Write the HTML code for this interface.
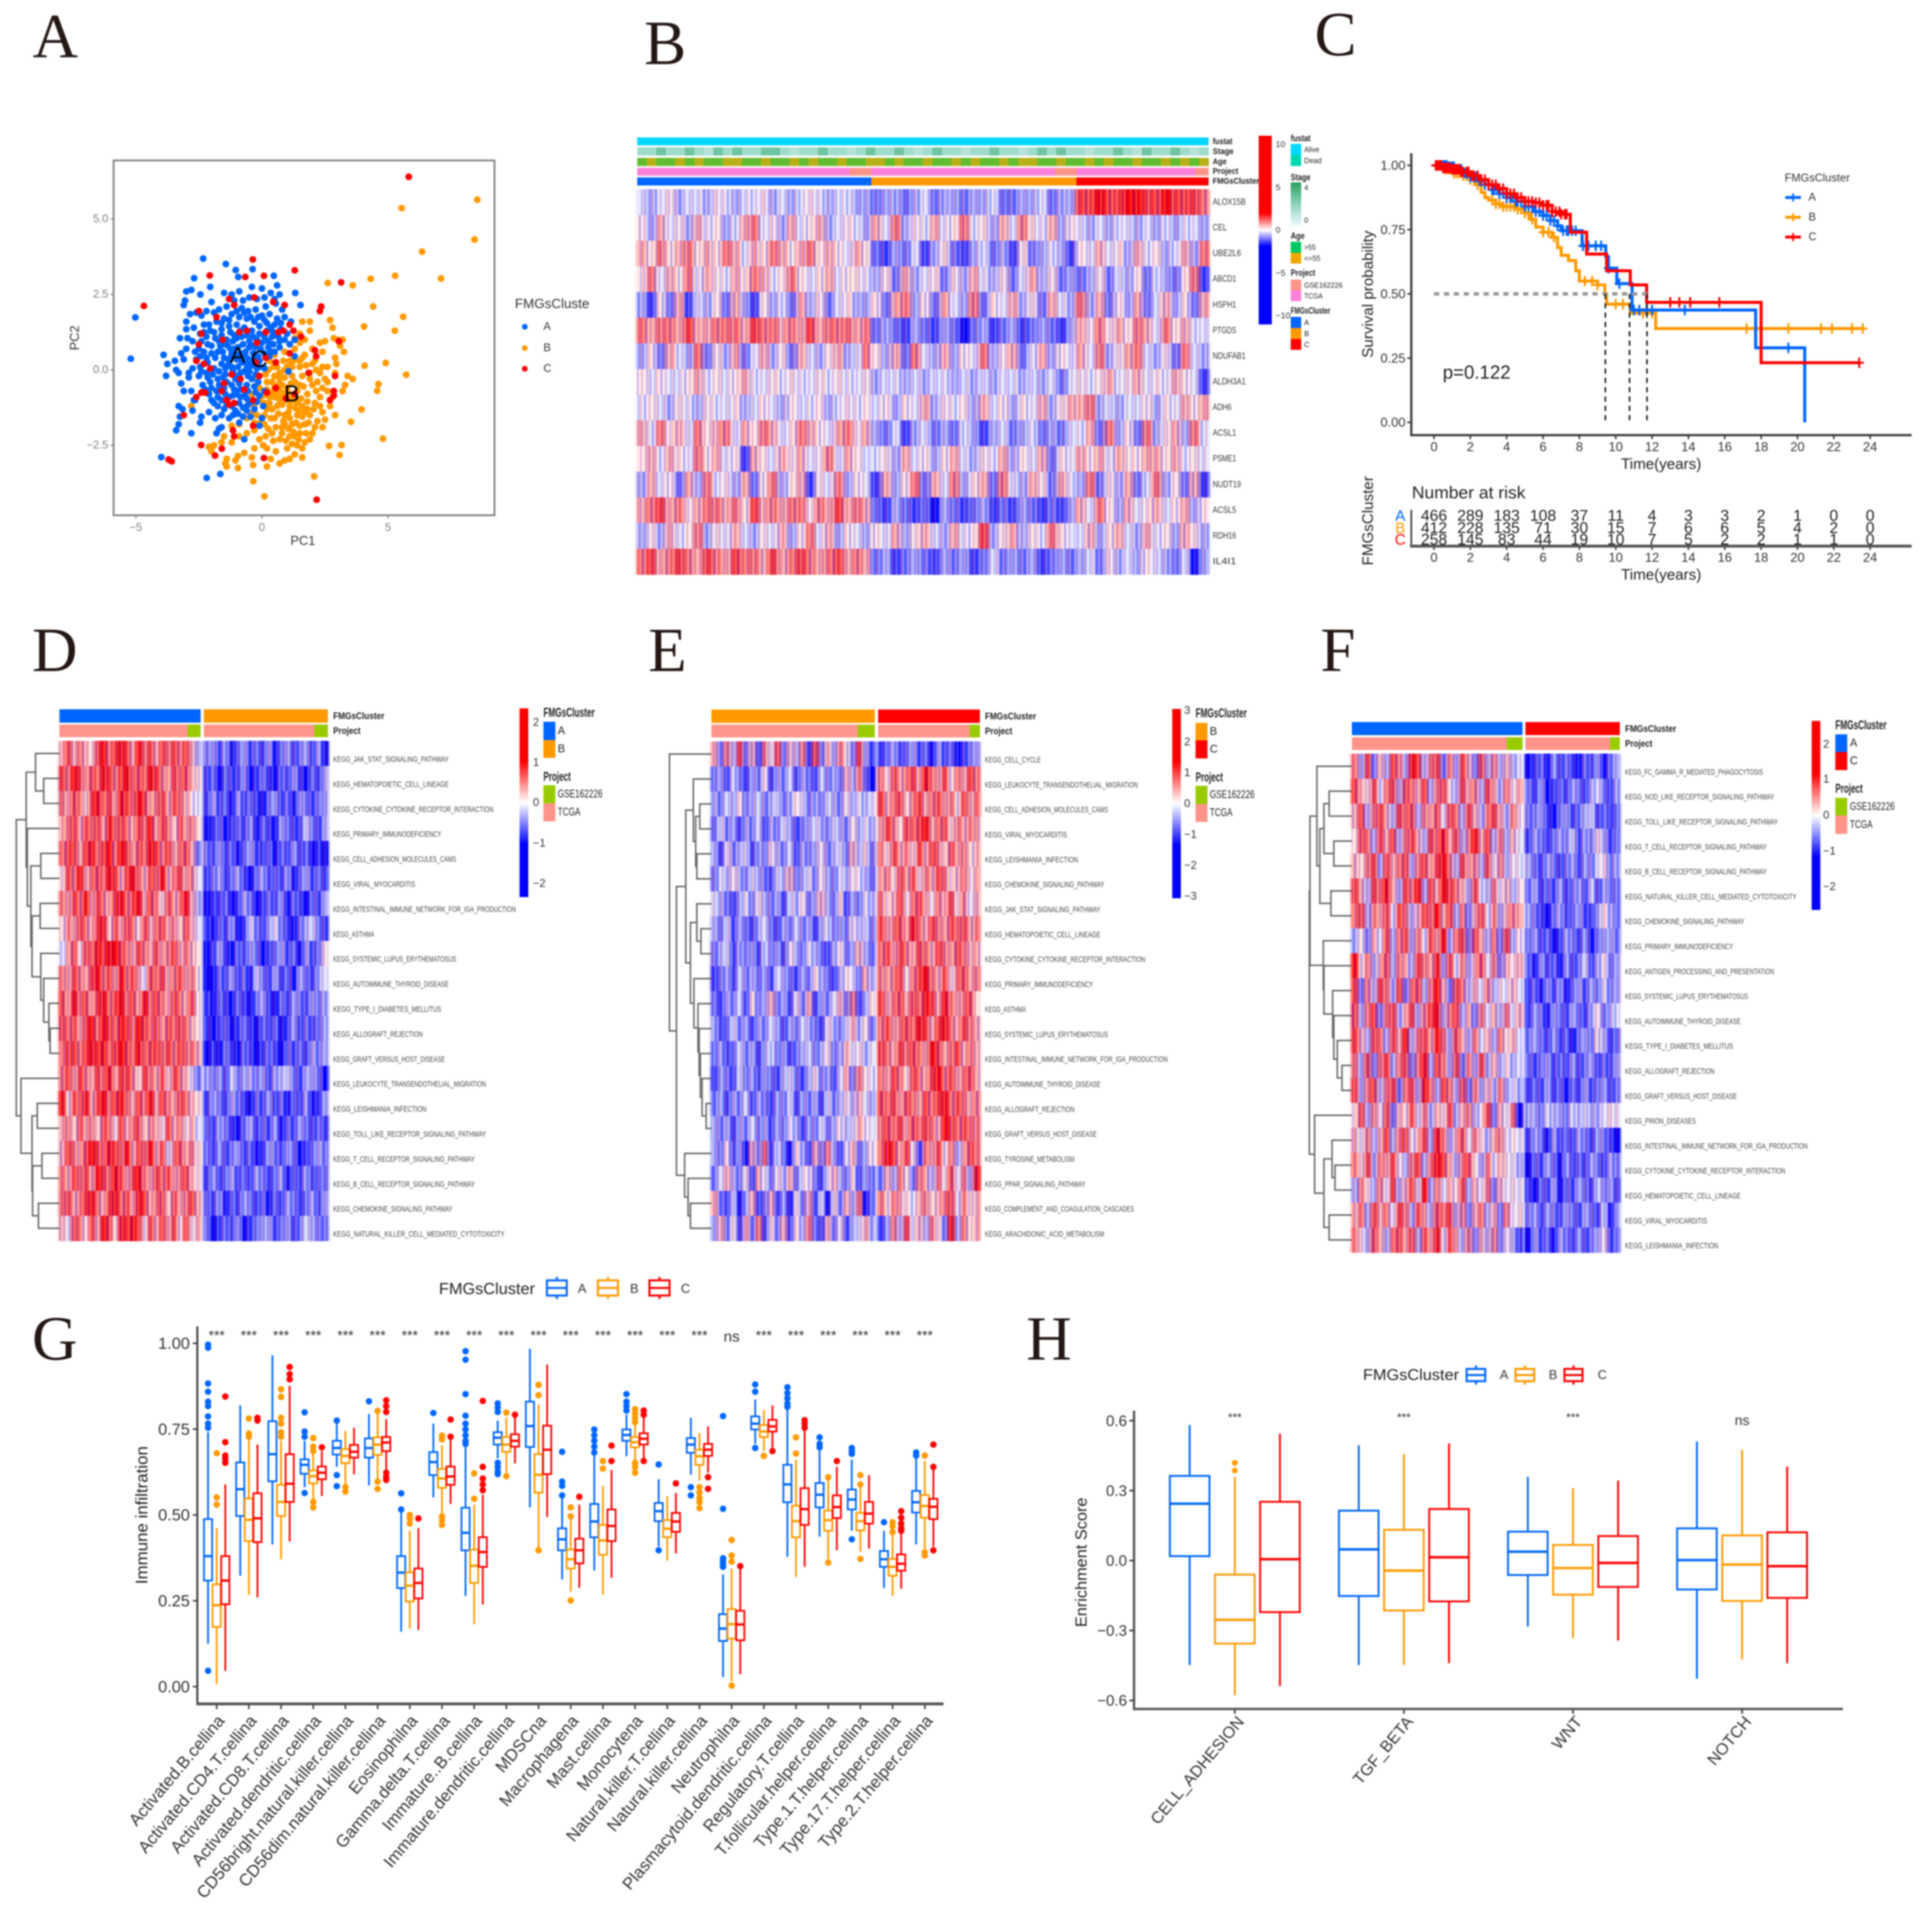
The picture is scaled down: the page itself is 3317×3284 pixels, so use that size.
<!DOCTYPE html>
<html lang="en">
<head>
<meta charset="utf-8">
<title>FMGs cluster figure</title>
<style>
html,body{margin:0;padding:0;background:#fff}
#figure{display:block;filter:blur(1.3px)}
text{font-family:"Liberation Sans",sans-serif}
.letter{font-family:"Liberation Serif",serif;font-size:108px;fill:#231815}
</style>
</head>
<body>
<svg id="figure" xmlns="http://www.w3.org/2000/svg" width="3317" height="3284" viewBox="0 0 3317 3284">
<defs>
<linearGradient id="gradB" x1="0" y1="0" x2="0" y2="1"><stop offset="0.41" stop-color="#ff0000"/><stop offset="0.5" stop-color="#ffffff"/><stop offset="0.585" stop-color="#0000ff"/></linearGradient>
<linearGradient id="gradHeat" x1="0" y1="0" x2="0" y2="1"><stop offset="0.28" stop-color="#ff0000"/><stop offset="0.5" stop-color="#ffffff"/><stop offset="0.72" stop-color="#0000ff"/></linearGradient>
<linearGradient id="gradStage" x1="0" y1="0" x2="0" y2="1"><stop offset="0" stop-color="#2a9d5c"/><stop offset="0.35" stop-color="#6fc4a2"/><stop offset="0.7" stop-color="#b5e3da"/><stop offset="1" stop-color="#eefbfb"/></linearGradient>
<filter id="hblur" x="-2%" y="-2%" width="104%" height="104%" color-interpolation-filters="sRGB"><feGaussianBlur stdDeviation="3 0.6"/><feComponentTransfer><feFuncA type="linear" slope="1.6"/></feComponentTransfer></filter>
<pattern id="fineStripes" patternUnits="userSpaceOnUse" width="41" height="10">
<rect x="0" y="0" width="2" height="10" fill="#0000ff" fill-opacity=".3"/><rect x="3" y="0" width="2" height="10" fill="#ffffff" fill-opacity=".32"/><rect x="7" y="0" width="3" height="10" fill="#0000ff" fill-opacity=".18"/><rect x="11" y="0" width="2" height="10" fill="#ff0000" fill-opacity=".25"/><rect x="14" y="0" width="2" height="10" fill="#ffffff" fill-opacity=".25"/><rect x="18" y="0" width="3" height="10" fill="#0000ff" fill-opacity=".3"/><rect x="23" y="0" width="2" height="10" fill="#ffffff" fill-opacity=".32"/><rect x="26" y="0" width="2" height="10" fill="#800080" fill-opacity=".28"/><rect x="30" y="0" width="3" height="10" fill="#ffffff" fill-opacity=".18"/><rect x="35" y="0" width="2" height="10" fill="#0000ff" fill-opacity=".26"/><rect x="38" y="0" width="2" height="10" fill="#ff0000" fill-opacity=".2"/>
</pattern>
</defs>
<rect x="0" y="0" width="3317" height="3284" fill="#ffffff"/>
<text class="letter" x="56" y="98">A</text>
<text class="letter" x="1106" y="110">B</text>
<text class="letter" x="2257" y="95">C</text>
<text class="letter" x="55" y="1152">D</text>
<text class="letter" x="1113" y="1152">E</text>
<text class="letter" x="2267" y="1152">F</text>
<text class="letter" x="55" y="2334">G</text>
<text class="letter" x="1762" y="2334">H</text>
<g id="panelA"></g>
<g id="panelB"></g>
<g id="panelC"></g>
<g id="panelD"></g>
<g id="panelE"></g>
<g id="panelF"></g>
<g id="panelG"></g>
<g id="panelH"></g>
</svg>
<script>
/* ---------- Panel A data ---------- */
const pcaTicksX=[-5,0,5];
const pcaTicksY=[-2.5,0,2.5,5];
const pcaPointsB=[[8.54,5.64],[5.54,5.36],[8.43,4.32],[6.35,3.92],[7.1,3.03],[5.28,3.12],[4.31,3.02],[3.6,2.8],[2.61,2.88],[4.41,2.1],[5.6,1.76],[5.27,1.3],[4.05,1.44],[4.91,.23],[4.07,.14],[5.72,-.16],[4.62,-.47],[4.57,-.69],[3.95,-1.31],[3.53,-1.72],[4.8,-2.28],[3.16,-2.49],[2.66,-2.52],[3.08,-2.82],[2.07,-3.53],[.1,-4.19],[-.34,-3.69],[2.7,1.65],[2.8,1.4],[1.9,1.3],[1.9,1.6],[1.6,1.6],[2.5,.95],[2.3,.9],[3,1],[3.2,1],[2.85,1.05],[3.25,.6],[3.1,.8],[2.4,.6],[2.9,.4],[2.95,.2],[2.4,.1],[2.6,.1],[2.9,-.1],[3.4,-.2],[3.6,-.3],[3.3,-.5],[3.2,-.7],[2.5,-.3],[2.1,.3],[2,.7],[1.7,1],[1.5,1.2],[1.3,.7],[1.7,.5],[1.1,.3],[1.5,.1],[1.9,-.1],[2.2,-.4],[2.6,-.7],[2.8,-.9],[2.7,-1.2],[2.4,-1.4],[2.9,-1.5],[2.1,-1.1],[1.8,-.8],[1.5,-.5],[1.2,-.2],[.9,0],[.6,.1],[.3,.3],[.7,-.3],[1,-.6],[1.3,-.9],[1.6,-1.2],[1.9,-1.5],[2.2,-1.7],[2.4,-1.9],[2,-2.1],[1.7,-1.8],[1.4,-1.5],[1.1,-1.2],[.8,-.9],[.5,-.6],[.2,-.4],[-.1,-.6],[.3,-.9],[.6,-1.2],[.9,-1.5],[1.2,-1.8],[1.5,-2.1],[1.7,-2.4],[1.4,-2.5],[1.1,-2.2],[.8,-1.9],[.5,-1.6],[.2,-1.3],[-.1,-1],[-.4,-.8],[-.2,-1.5],[.1,-1.8],[.4,-2.1],[.7,-2.3],[1,-2.6],[1.3,-2.8],[1.6,-2.6],[1.6,-2.9],[1.1,-2.95],[.9,-3],[.7,-3.1],[.55,-2.7],[.2,-2.6],[.35,-2.95],[.2,-3.2],[.05,-2.5],[-.3,-2.6],[-.4,-2.9],[-.35,-3.15],[-.7,-2.75],[-.95,-2.85],[-1.05,-3],[-1.4,-2.95],[-1.4,-3.2],[-1.45,-3.1],[-.95,-3.25],[-2,-2.7],[-1.9,-2.5],[-2.1,-2.55],[-1.6,-2.4],[-1.5,-2.2],[-1.7,-1.95],[-1.2,-2.4],[-.9,-2.2],[-.6,-2.1],[-.3,-2],[-.9,-1.8],[-.6,-1.6],[-1.2,-1.85],[-.1,-2.3],[.1,-1.5],[.4,-1.3],[.7,-.7],[1,-1],[1.3,-.4],[1.6,-.2],[2,-.5],[2.3,-.9],[1.8,-1.3],[1.4,-1.1],[1.1,-.8],[.8,-.5],[.5,-.2],[1.2,.1],[1.6,.4],[2,.2],[2.3,-.1],[2.6,-.4],[1.5,.9],[.9,.6],[.5,.5],[1.3,1.05],[.9,-1.8],[1.3,-2.2],[.5,-.9],[-.2,-.3],[-2.8,-1.2],[-.6,-1.2],[2.5,-1.65],[1.9,-2.3],[.15,-.15],[.4,-.4],[.65,-.5],[.9,-.25],[1.15,-.45],[1.4,-.7],[1.65,-.55],[1.9,-.3],[2.15,-.7],[.05,-.85],[.3,-1.1],[.55,-.85],[.8,-1.15],[1.05,-1.4],[1.3,-1.25],[1.55,-.95],[1.8,-1.05],[2.05,-1.3],[2.3,-1.2],[.1,-1.1],[.35,-1.6],[.65,-1.45],[.85,-1.7],[1.1,-1.6],[1.35,-1.75],[1.6,-1.55],[1.85,-1.75],[2.1,-1.9],[.25,-1.95],[.55,-1.9],[.8,-2.1],[1.05,-1.95],[1.25,-2.05],[1.5,-1.85],[1.75,-2.1],[-.05,-1.75],[.15,-2.2],[.45,-2.35],[.95,-2.35],[1.2,-2.45],[1.45,-2.3],[.7,-.1],[1,.1],[1.25,.3],[1.5,.3],[1.75,.15],[.85,.3],[.45,.1],[.25,0],[2.15,0],[2.4,-.6],[.95,-.75],[1.2,-1],[.7,-1],[1.45,-1.35],[1.7,-1.4],[.45,-.75],[.2,-.65],[-.3,-1.2],[-.45,-1.45],[-.3,-1.75]];
const pcaPointsA=[[-5.2,.37],[-5.02,1.74],[-3.99,-2.89],[-2.19,-3.58],[-1.65,-3.45],[-2.33,3.69],[-1.43,3.51],[-1.04,3.31],[-.37,3.34],[-.94,3.08],[.47,3.12],[-2.69,3.04],[1.32,2.55],[1.53,2.15],[-2.44,2.5],[-3,2.6],[-2.8,2.65],[-2.05,2.75],[-1.5,2.55],[-1.2,2.5],[-.9,2.6],[-.4,2.75],[0,2.7],[.6,2.8],[.7,2.5],[.5,2.35],[-3.1,2.15],[-3.05,2.3],[-2,2.25],[-.75,2.3],[-.5,2.4],[-.2,2.35],[.15,2.1],[-3.9,.5],[-3.75,.2],[-3.45,.3],[-3.8,-.2],[-3.4,0],[-3.3,-.1],[-2.9,-.1],[-3.2,.55],[-3.1,.35],[-3.25,1.05],[-2.95,1.05],[-3,.7],[-2.9,-.25],[-3.2,-.45],[-3.1,-.7],[-2.8,-.7],[-2.65,-1],[-3.3,-1.2],[-3.15,-1.3],[-2.75,-1.35],[-2.7,-1],[-3.25,-1.55],[-3.4,-2],[-3.3,-1.8],[-2.8,-2.1],[-2.45,-1.75],[-2.4,-1.55],[-1.85,-1.6],[-1.7,-1.95],[-1.8,-2.1],[-1.6,-1.9],[-.7,-2.3],[-.1,-1.85],[0,-1.6],[-3,1.6],[-2.85,1.85],[-2.6,1.9],[-2.4,1.8],[-2.3,1.5],[-2.7,1.4],[-3,1.35],[-2.2,1.95],[-1.9,1.9],[-1.7,2],[-1.4,2.1],[-1.1,2.3],[-.8,2.05],[-.55,1.95],[-.25,2],[.1,2.4],[.35,2.55],[.55,2.2],[.8,2],[.9,1.75],[1.15,1.6],[.3,1.85],[0,1.8],[-.3,1.6],[-.6,1.7],[-.9,1.75],[-1.2,1.85],[-1.5,1.7],[-1.8,1.6],[-2.1,1.5],[-2.45,1.2],[-2.75,.95],[-2.5,.7],[-2.2,1.1],[-1.9,1.25],[-1.6,1.35],[-1.3,1.45],[-1,1.5],[-.7,1.4],[-.4,1.3],[-.1,1.45],[.2,1.55],[.5,1.5],[.75,1.35],[1,1.2],[1.3,1],[1.1,.85],[.7,.95],[.4,1.1],[.1,1.1],[-.2,1],[-.5,.95],[-.8,1.1],[-1.1,1.15],[-1.4,1],[-1.7,.95],[-2,.8],[-2.3,.6],[-2.6,.35],[-2.75,.05],[-2.45,.1],[-2.15,.25],[-1.85,.4],[-1.55,.6],[-1.25,.7],[-.95,.75],[-.65,.6],[-.35,.55],[-.05,.7],[.25,.75],[.5,.6],[-2.5,-.2],[-2.2,-.1],[-1.9,.05],[-1.6,.2],[-1.3,.3],[-1,.35],[-.7,.25],[-.4,.15],[-.1,.3],[.1,.05],[-2.35,-.5],[-2.05,-.4],[-1.75,-.3],[-1.45,-.15],[-1.15,-.05],[-.85,-.1],[-.55,-.2],[-.25,-.15],[1.05,-.05],[-2.1,-.8],[-1.8,-.7],[-1.5,-.6],[-1.2,-.5],[-.9,-.45],[-.6,-.5],[-.3,-.55],[-1.9,-1.1],[-1.6,-1],[-1.3,-.9],[-1,-.8],[-.7,-.85],[-.4,-1.05],[-.1,-.85],[.1,-.7],[-2.1,-1.4],[-1.5,-1.3],[-1.2,-1.2],[-.9,-1.1],[-.6,-.95],[-.95,-1.45],[-.6,-1.35],[-.3,-1.3],[-1.3,-1.6],[-.9,-1.75],[.05,-1.2],[-1.55,-.25],[-1.2,.55],[-1.05,-.3],[-.8,.45],[-.5,-.05],[-1.35,.15],[-.95,.1],[-.6,.05],[-1.65,.8],[-1.15,.95],[-.35,.8],[-.15,.45],[.3,.45],[1.3,.45],[-.7,1.9],[-.45,1.75],[-.15,1.75],[.1,1.65],[.35,1.4],[.6,1.7],[.75,1.55],[-1,1.95],[-1.3,1.65],[-1.6,1.55],[-.85,1.3],[-.6,1.15],[-.35,1.1],[-.1,1.2],[.2,1.3],[.45,1.25],[.65,1.1],[.9,1],[-1.25,1.25],[-1,1.05],[-.75,.85],[-.5,.75],[-.25,.75],[0,.9],[.25,.95],[.45,.85],[.7,.75],[-1.55,.85],[-1.35,.8],[-1.1,.7],[-.85,.55],[-.6,.4],[-.35,.35],[-.1,.1],[.1,.55],[.35,.6],[-2.2,.4],[-2,.55],[-1.75,.6],[-1.5,.4],[-1.25,.4],[-1.05,.5],[-.8,.25],[-.5,.2],[-.2,.05],[-2.4,-.05],[-2.15,-.25],[-1.95,-.15],[-1.7,-.05],[-1.45,.05],[-1.2,.1],[-.95,-.2],[-.7,-.05],[-.4,-.3],[-.15,-.4],[-2.25,-.65],[-2,-.6],[-1.7,-.5],[-1.4,-.4],[-1.1,-.65],[-.85,-.65],[-.55,-.7],[-.25,-.75],[-2,-1],[-1.75,-.9],[-1.45,-.8],[-1.15,-.85],[-.85,-.9],[-.55,-1.15],[-.2,-1.05],[-1.75,-1.2],[-1.4,-1.15],[-1.05,-1.35],[-.75,-1.25],[-.45,-1.55],[-1.6,-1.5],[-1.15,-1.5],[-.75,-1.55],[-2.3,1.25],[-2.05,1.3],[-2.4,.95],[-2.15,.85],[-1.85,1.05],[-1.6,1.15],[-2.65,.6],[-2.45,.45]];
const pcaPointsC=[[5.82,6.4],[3.14,2.9],[1.3,3.3],[-.36,3.66],[.08,3.12],[-.66,3.08],[-2.07,3.13],[-4.68,2.12],[2.17,-4.3],[.08,-2.92],[-1.86,-2.84],[-1.59,-2.61],[-2.41,-2.49],[-3.7,-2.97],[-3.58,-3.03],[2.35,2.1],[2.3,1.95],[-2.5,1.95],[-.3,2.4],[-1.1,2.15],[-1.3,2.35],[.9,2.15],[.45,2.25],[-1.8,1.75],[-2.4,1.2],[-2.5,.85],[-1.55,1],[-.9,1.25],[-.6,1.3],[.15,1.25],[.65,1.25],[1.1,1.5],[1.25,1.3],[.85,1.3],[1.55,1.1],[-.2,.9],[-2.6,.3],[-2.3,.2],[-2.05,.05],[-1.2,-.15],[-.85,-.3],[-.25,.25],[.15,.4],[.55,.25],[1.1,.55],[1.85,-.1],[2.9,-.2],[3.05,.95],[2.1,.65],[-1.5,-.45],[-.7,-.65],[-.1,-.2],[.55,-.6],[1.3,-.8],[2.85,-.7],[2.85,-.85],[2.7,-1],[-2.4,-.75],[-2.25,-.75],[-1.6,-.7],[-1.4,-1],[-1.3,-1.15],[-3.1,-1.5],[-1.1,-1.1],[-.35,-1],[.2,-.75],[-1.15,-2],[-1.1,-2.2],[-.35,-1.85],[.95,-.95],[-2.6,-.9],[2.15,.45]];
/* ---------- Panel B data ---------- */
const geneNames=["ALOX15B","CEL","UBE2L6","ABCD1","HSPH1","PTGDS","NDUFAB1","ALDH3A1","ADH6","ACSL1","PSME1","NUDT19","ACSL5","RDH16","IL4I1"];
const stageBar=[2,2,3,2,2,3,2,1,3,2,3,2,2,3,3,2,1,2,2,3,2,2,1,2,3,2,2,3,2,1,2,3,2,2,1,2,2,3,2,2,1,2,3,2,3,2,2,1,2,2,3,2,1,3,2,2,3,2,1,2];
const ageBar=[0,1,0,0,1,0,1,0,0,1,1,0,0,1,0,0,1,0,1,0,0,1,0,0,1,1,0,1,0,0,1,0,0,1,0,1,0,0,1,0,1,1,0,0,1,0,0,1,0,1,0,0,1,0,0,1,0,1,0,1];
const geneHeat=[
[4,3,4,5,3,4,4,3,5,4,3,4,4,5,3,4,3,4,5,4,3,4,4,3,3,2,3,3,2,3,4,2,3,3,2,3,3,4,2,2,3,3,4,2,3,3,8,8,9,8,8,9,9,8,8,9,8,8,8,7],
[5,3,6,4,5,3,6,4,5,3,4,6,7,4,5,3,6,4,5,6,3,4,5,4,3,6,4,7,3,5,4,6,4,5,7,4,5,3,6,4,7,5,4,6,3,5,4,3,4,3,4,4,3,4,3,4,3,4,4,3],
[6,5,7,5,6,7,5,6,5,7,6,4,6,5,7,6,5,6,7,5,6,5,4,6,5,2,1,3,2,4,1,3,5,2,1,3,4,2,3,1,5,2,3,4,3,1,5,4,6,4,5,3,6,4,5,3,4,6,3,7],
[5,7,4,6,5,7,4,6,5,4,6,5,7,6,4,5,7,5,4,5,6,4,5,5,4,3,5,2,6,3,4,5,2,5,3,6,4,3,5,2,4,6,3,5,2,3,2,3,5,2,4,3,5,2,4,3,2,5,7,1],
[3,1,5,2,6,1,4,3,5,2,6,3,1,5,3,4,2,6,3,5,2,4,5,3,3,5,2,6,7,3,5,2,6,4,3,7,2,5,4,6,3,5,2,6,4,3,7,3,6,2,5,3,6,2,4,6,3,5,2,6],
[7,6,7,7,6,8,6,6,7,7,7,6,8,7,7,6,7,6,8,6,7,7,7,6,7,2,3,2,1,3,2,1,3,2,0,2,3,1,2,3,1,2,3,2,1,3,6,5,7,5,6,5,7,6,4,7,5,6,4,4],
[3,5,2,6,4,3,7,2,5,3,6,2,4,6,3,5,2,6,4,3,5,6,3,4,7,5,3,6,2,7,4,3,6,3,5,4,7,3,5,6,2,4,6,3,5,4,6,4,7,3,5,6,7,4,3,5,2,7,4,3],
[5,4,5,4,4,5,6,4,5,4,5,6,4,4,5,4,5,4,4,5,4,5,4,4,5,3,4,4,3,4,3,4,4,3,4,3,4,3,4,4,3,4,3,4,2,4,5,4,5,6,4,5,6,4,5,4,6,5,4,1],
[4,5,4,3,5,4,3,5,4,4,5,3,4,5,4,3,5,4,4,5,3,4,5,4,5,4,5,3,5,4,6,3,5,4,5,3,6,4,5,3,5,4,6,3,5,6,6,7,3,4,3,4,4,5,3,5,4,6,5,6],
[6,4,7,5,6,4,7,5,6,7,4,6,5,7,6,4,5,7,6,5,4,6,7,5,6,3,2,4,1,3,4,2,3,2,4,3,1,3,4,2,3,4,2,3,2,4,4,6,2,7,3,5,2,7,3,5,6,3,7,4],
[5,6,4,6,5,4,7,5,6,4,5,1,6,5,4,6,5,6,4,5,7,4,6,5,4,4,5,3,6,4,5,3,5,6,4,3,5,4,6,3,5,4,6,2,5,4,6,5,6,4,6,5,5,6,6,5,6,4,5,4],
[3,6,4,5,2,6,3,7,4,5,3,6,2,5,7,3,5,6,1,5,4,7,3,5,4,1,6,3,5,7,2,6,4,7,3,5,6,2,7,4,3,6,5,2,6,4,3,7,2,5,3,6,2,4,7,3,5,2,6,1],
[6,7,8,6,7,5,6,7,7,6,7,5,8,6,7,6,7,7,5,7,6,8,6,7,6,2,1,3,2,1,2,0,3,2,1,2,3,1,2,1,3,2,1,2,1,3,6,4,7,5,3,6,4,5,6,4,5,6,3,5],
[3,5,3,6,4,5,7,3,5,4,6,4,3,5,4,6,3,5,7,4,6,3,5,4,3,5,4,6,3,5,6,4,3,6,4,5,8,3,5,6,3,5,4,7,5,4,4,6,3,5,6,4,3,6,4,5,3,6,5,3],
[7,8,6,7,8,7,6,8,7,6,8,7,7,6,8,6,7,8,7,6,7,8,6,7,6,2,3,1,2,3,2,1,3,2,3,1,2,4,2,3,2,3,1,2,3,2,3,4,2,5,3,4,3,5,4,3,2,4,0,3]];
/* ---------- Panel C data ---------- */
const kmTimesA=[0,.8,1.2,1.6,2,2.4,2.8,3.2,3.6,4,4.5,5,5.5,6,6.4,6.8,7,8.15,9.45,9.6,10.06,10.9,17.7,20.4];
const kmSurvA=[1,.995,.985,.97,.955,.94,.925,.905,.89,.875,.86,.84,.82,.805,.785,.765,.746,.687,.645,.6,.54,.437,.29,0];
const kmTimesB=[0,.6,1,1.5,2,2.3,2.6,2.8,3,3.4,3.8,4,4.6,5,5.3,5.6,6,6.5,6.8,7,7.4,7.8,8,9,9.4,9.5,10.8,12.2,23.6];
const kmSurvB=[1,.985,.97,.96,.945,.925,.895,.875,.865,.85,.84,.84,.83,.815,.79,.76,.74,.72,.68,.65,.63,.59,.55,.535,.5,.46,.425,.365,.365];
const kmTimesC=[0,.5,1,1.5,2,2.5,3,3.5,4,4.5,5,5.5,6,6.5,7,7.5,8.4,9.5,10.8,11.7,18,23.4];
const kmSurvC=[1,.99,.985,.975,.96,.945,.925,.91,.89,.875,.86,.855,.845,.82,.81,.74,.655,.59,.535,.467,.232,.232];
const censorA=[.2,.3,.4,.5,.6,.7,.8,.9,1,1.1,1.2,1.3,1.4,1.5,1.7,1.8,2,2.2,2.3,2.5,2.6,2.8,3,3.2,3.3,3.5,3.6,3.8,4,4.2,4.3,4.5,4.6,4.8,5,5.2,5.4,5.6,5.8,6,6.2,6.4,6.6,6.8,7.1,7.3,7.4,7.6,7.8,8.2,8.5,8.9,9.2,9.6,10.2,11,11.3,11.7,12,13.8,19.5];
const censorB=[.2,.35,.5,.65,.8,.95,1.1,1.25,1.4,1.6,1.8,2,2.2,2.4,3.2,3.4,3.6,3.8,4,4.2,4.4,4.6,4.8,5,5.2,5.4,6,6.3,6.6,8.3,8.7,9,10,10.4,11.5,12,17.2,19.5,21.3,21.9,23,23.6];
const censorC=[.1,.2,.3,.4,.5,.6,.7,.8,.9,1,1.1,1.2,1.3,1.4,1.5,1.6,1.8,1.9,2.1,2.2,2.4,2.6,2.8,3,3.2,3.4,3.6,3.8,4,4.2,4.4,4.6,4.8,5,5.2,5.4,5.6,5.8,6,6.2,6.3,6.5,6.7,6.9,7,7.2,7.3,13,13.5,14.1,15.7,23.4];
const medianTimes=[9.43,10.76,11.72];
const timeTicks=[0,2,4,6,8,10,12,14,16,18,20,22,24];
const survTicks=[0,.25,.5,.75,1];
const riskA=[466,289,183,108,37,11,4,3,3,2,1,0,0];
const riskB=[412,228,135,71,30,15,7,6,6,5,4,2,0];
const riskC=[258,145,83,44,19,10,7,5,2,2,1,1,0];
/* ---------- Panel D data ---------- */
const pathwaysD=["KEGG_JAK_STAT_SIGNALING_PATHWAY","KEGG_HEMATOPOIETIC_CELL_LINEAGE","KEGG_CYTOKINE_CYTOKINE_RECEPTOR_INTERACTION","KEGG_PRIMARY_IMMUNODEFICIENCY","KEGG_CELL_ADHESION_MOLECULES_CAMS","KEGG_VIRAL_MYOCARDITIS","KEGG_INTESTINAL_IMMUNE_NETWORK_FOR_IGA_PRODUCTION","KEGG_ASTHMA","KEGG_SYSTEMIC_LUPUS_ERYTHEMATOSUS","KEGG_AUTOIMMUNE_THYROID_DISEASE","KEGG_TYPE_I_DIABETES_MELLITUS","KEGG_ALLOGRAFT_REJECTION","KEGG_GRAFT_VERSUS_HOST_DISEASE","KEGG_LEUKOCYTE_TRANSENDOTHELIAL_MIGRATION","KEGG_LEISHMANIA_INFECTION","KEGG_TOLL_LIKE_RECEPTOR_SIGNALING_PATHWAY","KEGG_T_CELL_RECEPTOR_SIGNALING_PATHWAY","KEGG_B_CELL_RECEPTOR_SIGNALING_PATHWAY","KEGG_CHEMOKINE_SIGNALING_PATHWAY","KEGG_NATURAL_KILLER_CELL_MEDIATED_CYTOTOXICITY"];
const heatD=[
[6,8,6,7,6,5,8,9,7,8,9,8,6,9,7,8,6,8,7,8,7,8,6,3,2,3,1,3,0,2,3,1,2,1,3,0,2,3,1,2,3,1,3,0],
[8,7,9,8,6,8,7,9,8,7,8,9,7,8,7,9,8,7,6,8,7,8,6,5,1,2,0,2,1,1,3,0,1,2,1,0,2,1,3,1,0,2,1,3],
[7,6,8,7,5,8,9,7,8,6,9,8,7,9,8,6,7,8,6,8,7,6,5,4,1,3,1,2,0,3,1,2,1,0,2,3,1,2,0,3,2,1,2,3],
[6,7,8,6,8,7,8,6,9,7,8,7,6,8,7,9,6,8,7,5,8,6,7,5,0,1,2,0,1,2,1,3,0,2,1,0,3,2,1,1,4,2,1,3],
[7,8,8,6,8,9,7,8,9,7,9,8,6,8,7,9,8,7,8,6,7,8,6,2,2,1,3,1,2,0,2,3,1,1,2,0,2,1,3,1,2,0,1,0],
[5,8,7,9,6,7,8,7,9,8,6,8,9,7,6,8,7,9,6,7,8,6,7,4,1,2,3,1,2,3,1,0,2,3,1,2,1,3,0,2,3,1,2,1],
[7,6,8,7,9,6,8,7,6,8,9,7,8,9,6,8,7,5,8,6,7,9,6,3,0,1,1,2,0,1,3,2,0,1,2,1,3,0,2,1,0,2,1,3],
[5,7,6,8,7,6,8,9,5,8,6,8,7,5,8,6,7,8,6,7,5,8,6,4,1,0,2,1,3,0,1,4,2,1,3,4,2,1,0,2,3,4,2,1],
[4,6,8,5,8,7,9,8,9,9,8,7,6,8,7,6,8,6,7,8,6,7,6,5,0,1,3,1,0,2,1,3,2,0,1,2,3,1,2,0,3,1,2,5],
[7,6,8,7,6,8,9,7,8,6,9,7,8,6,4,8,7,8,6,7,8,6,7,5,0,0,2,1,3,1,2,0,4,2,1,3,1,2,0,3,2,1,3,4],
[8,6,9,7,8,6,8,9,7,8,9,7,8,6,9,7,8,7,6,8,7,6,8,5,1,0,2,1,0,2,1,0,2,3,1,0,2,1,3,2,1,3,2,3],
[8,7,8,6,8,9,7,9,8,7,9,8,7,9,8,7,8,6,8,7,8,7,6,5,1,0,1,2,0,1,2,1,0,2,1,2,0,1,3,1,2,1,2,3],
[7,8,8,7,8,9,8,9,7,8,9,8,7,9,7,8,8,7,8,7,8,7,7,6,0,1,0,2,1,0,2,1,0,1,2,1,0,2,1,2,1,3,2,3],
[7,8,6,8,7,6,8,7,9,6,8,8,7,5,8,7,6,8,5,8,7,6,4,2,3,2,3,1,4,2,3,3,2,3,1,3,3,4,2,1,3,3,2,0],
[9,5,8,7,9,6,8,9,7,8,9,7,6,8,7,9,6,8,7,6,8,7,6,5,1,3,2,1,3,2,1,0,2,1,3,1,2,0,2,1,3,0,1,3],
[6,7,5,8,6,7,5,8,7,5,8,6,7,8,5,7,6,5,8,6,7,5,6,4,2,1,3,2,1,0,2,3,1,2,1,3,0,2,1,3,2,1,2,1],
[6,8,7,6,8,9,8,7,9,8,7,9,6,8,7,9,6,8,4,7,8,6,7,5,2,1,3,1,2,3,1,2,0,1,3,2,1,3,2,0,1,2,3,2],
[7,6,8,7,8,6,9,8,7,9,8,6,8,9,7,6,8,7,8,6,7,8,6,5,1,3,1,2,3,1,2,1,3,2,1,2,3,0,2,1,3,1,2,2],
[7,8,6,7,8,9,7,6,8,9,7,8,6,9,8,6,7,8,5,8,6,7,8,6,2,1,3,0,2,1,3,2,1,2,0,2,1,3,2,1,2,3,1,3],
[6,4,8,7,5,8,6,9,8,5,9,8,9,8,5,8,6,8,6,8,5,8,5,6,2,0,1,2,1,3,0,1,2,3,3,1,2,3,1,2,4,3,2,2]];
/* ---------- Panel E data ---------- */
const pathwaysE=["KEGG_CELL_CYCLE","KEGG_LEUKOCYTE_TRANSENDOTHELIAL_MIGRATION","KEGG_CELL_ADHESION_MOLECULES_CAMS","KEGG_VIRAL_MYOCARDITIS","KEGG_LEISHMANIA_INFECTION","KEGG_CHEMOKINE_SIGNALING_PATHWAY","KEGG_JAK_STAT_SIGNALING_PATHWAY","KEGG_HEMATOPOIETIC_CELL_LINEAGE","KEGG_CYTOKINE_CYTOKINE_RECEPTOR_INTERACTION","KEGG_PRIMARY_IMMUNODEFICIENCY","KEGG_ASTHMA","KEGG_SYSTEMIC_LUPUS_ERYTHEMATOSUS","KEGG_INTESTINAL_IMMUNE_NETWORK_FOR_IGA_PRODUCTION","KEGG_AUTOIMMUNE_THYROID_DISEASE","KEGG_ALLOGRAFT_REJECTION","KEGG_GRAFT_VERSUS_HOST_DISEASE","KEGG_TYROSINE_METABOLISM","KEGG_PPAR_SIGNALING_PATHWAY","KEGG_COMPLEMENT_AND_COAGULATION_CASCADES","KEGG_ARACHIDONIC_ACID_METABOLISM"];
const heatE=[
[6,2,7,3,8,2,6,1,7,4,8,2,6,3,7,1,8,2,6,3,7,5,2,8,3,1,1,2,3,1,2,3,1,2,0,3,1,2,0,1,2,3],
[2,3,1,4,2,1,3,2,5,1,3,2,4,1,3,2,1,4,2,3,2,6,3,7,2,0,7,5,8,6,7,8,6,9,7,6,8,5,7,6,8,7],
[3,2,4,3,5,2,3,4,2,3,4,2,3,5,4,2,3,2,4,3,2,5,3,4,3,4,8,6,7,8,5,7,8,6,7,8,6,7,5,8,6,7],
[2,4,2,3,1,3,2,4,1,3,2,4,3,1,2,3,4,3,2,4,3,2,5,3,4,3,6,8,7,5,8,7,8,9,6,7,8,5,7,6,7,6],
[3,1,5,2,3,4,1,3,2,5,3,2,4,1,3,2,3,5,2,3,4,2,6,3,5,2,7,5,8,6,7,5,8,6,8,7,5,8,6,7,5,6],
[2,4,3,5,3,2,4,3,2,1,4,3,6,2,3,4,2,5,3,2,4,3,5,4,3,2,6,7,5,8,6,8,5,7,6,8,7,5,6,7,5,6],
[4,3,2,1,3,4,2,5,3,2,3,1,4,3,5,2,3,6,3,2,5,1,3,2,4,3,7,5,6,8,5,7,8,6,5,7,6,8,5,7,4,6],
[3,2,4,1,3,2,1,3,4,2,1,3,2,4,2,3,1,3,4,2,3,2,5,3,4,2,8,6,7,8,6,9,7,6,8,7,6,8,7,8,6,7],
[2,3,4,1,3,2,3,1,4,2,3,1,5,3,2,4,3,2,1,3,5,2,3,6,3,2,7,8,6,8,7,6,8,7,6,8,7,6,8,7,6,6],
[1,2,3,1,4,2,3,2,3,1,4,3,2,1,3,2,5,3,2,1,3,5,4,2,6,3,7,6,7,8,5,7,8,9,7,6,8,5,7,8,6,7],
[2,1,3,2,4,1,5,2,3,6,2,3,1,5,2,6,1,3,2,4,6,2,7,1,3,5,8,6,7,8,6,8,7,9,8,6,9,7,6,7,8,5],
[3,1,2,4,2,3,1,3,2,4,3,1,3,2,4,3,2,1,5,3,2,4,6,3,5,2,7,8,6,7,8,7,9,8,6,8,9,7,6,8,7,6],
[2,3,1,2,4,2,3,1,3,4,2,3,1,2,3,4,2,3,5,2,3,6,4,5,3,4,8,7,6,8,7,8,7,6,9,8,6,7,8,6,7,6],
[1,3,2,1,4,2,3,1,3,2,1,3,4,2,1,3,5,2,3,1,4,6,2,7,5,4,7,6,8,7,5,8,7,6,8,9,7,8,6,7,8,6],
[2,3,1,3,2,4,1,3,2,1,3,2,4,1,3,2,3,1,4,2,3,5,3,6,4,3,8,7,8,6,8,7,6,8,7,8,9,7,8,7,6,7],
[3,2,3,1,3,2,4,2,3,1,3,2,4,3,1,3,2,4,2,3,5,3,4,6,5,4,7,8,7,8,6,8,7,8,7,6,9,8,7,8,7,7],
[3,2,5,1,3,0,6,2,7,1,4,2,0,5,3,1,6,2,7,3,1,4,6,2,3,5,7,9,8,6,8,5,1,7,6,8,5,7,3,6,8,7],
[2,4,6,3,2,5,1,6,4,2,5,3,6,2,4,5,2,1,4,6,3,2,5,1,3,2,2,6,3,7,5,2,7,6,3,7,5,8,4,7,3,9],
[6,2,1,4,0,3,6,1,2,6,1,3,0,5,2,6,1,4,0,5,2,6,3,7,0,2,7,5,7,6,5,4,6,7,5,6,7,8,4,7,5,6],
[3,6,2,5,1,6,2,7,1,5,2,6,1,5,3,7,2,1,6,2,5,1,3,4,6,3,1,3,7,3,8,4,6,3,7,5,2,9,3,7,5,6]];
/* ---------- Panel F data ---------- */
const pathwaysF=["KEGG_FC_GAMMA_R_MEDIATED_PHAGOCYTOSIS","KEGG_NOD_LIKE_RECEPTOR_SIGNALING_PATHWAY","KEGG_TOLL_LIKE_RECEPTOR_SIGNALING_PATHWAY","KEGG_T_CELL_RECEPTOR_SIGNALING_PATHWAY","KEGG_B_CELL_RECEPTOR_SIGNALING_PATHWAY","KEGG_NATURAL_KILLER_CELL_MEDIATED_CYTOTOXICITY","KEGG_CHEMOKINE_SIGNALING_PATHWAY","KEGG_PRIMARY_IMMUNODEFICIENCY","KEGG_ANTIGEN_PROCESSING_AND_PRESENTATION","KEGG_SYSTEMIC_LUPUS_ERYTHEMATOSUS","KEGG_AUTOIMMUNE_THYROID_DISEASE","KEGG_TYPE_I_DIABETES_MELLITUS","KEGG_ALLOGRAFT_REJECTION","KEGG_GRAFT_VERSUS_HOST_DISEASE","KEGG_PRION_DISEASES","KEGG_INTESTINAL_IMMUNE_NETWORK_FOR_IGA_PRODUCTION","KEGG_CYTOKINE_CYTOKINE_RECEPTOR_INTERACTION","KEGG_HEMATOPOIETIC_CELL_LINEAGE","KEGG_VIRAL_MYOCARDITIS","KEGG_LEISHMANIA_INFECTION"];
const heatF=[
[7,3,8,2,6,3,8,7,3,9,8,3,7,8,2,7,3,8,6,2,8,3,7,3,6,3,4,0,1,2,0,3,1,2,1,0,2,1,3,0,2,3],
[8,6,5,8,4,7,8,3,8,7,6,8,3,7,8,5,3,8,6,7,3,8,6,3,7,5,6,2,1,3,0,1,2,1,3,2,1,3,4,2,1,3],
[6,8,3,7,8,6,3,8,7,8,3,7,6,8,4,8,7,3,8,6,3,7,8,6,3,7,5,2,2,3,1,0,2,3,1,2,3,4,1,2,1,2],
[5,8,7,3,8,6,8,3,7,8,6,3,8,7,9,6,8,3,7,9,6,8,3,7,3,6,4,1,3,2,1,2,3,2,4,1,3,2,5,3,1,2],
[6,5,7,8,3,8,6,7,8,3,7,8,6,8,9,7,3,8,6,7,3,8,4,7,3,5,4,3,2,1,3,2,1,2,3,1,3,2,4,5,2,3],
[8,6,3,8,7,9,6,3,8,7,9,3,8,6,9,8,7,6,3,8,4,3,7,4,6,3,5,2,3,1,2,1,3,1,2,3,1,4,1,3,2,2],
[7,8,3,7,6,8,4,8,7,3,6,8,7,9,6,8,3,7,2,6,8,4,7,3,6,7,6,3,2,1,0,2,3,1,2,3,1,1,3,5,3,2],
[3,5,2,6,4,8,3,7,8,3,7,4,8,6,9,3,7,8,2,8,6,3,7,2,8,3,5,2,3,1,2,0,1,3,2,1,3,0,2,3,3,2],
[9,5,7,3,6,8,3,7,6,3,8,7,6,9,3,8,4,7,3,6,8,4,7,2,6,5,6,2,0,3,1,2,0,3,1,2,4,1,3,5,2,3],
[8,2,7,3,8,7,3,8,2,7,8,3,7,9,6,2,8,7,3,6,4,7,3,5,4,6,4,1,2,0,3,1,3,0,2,3,1,3,2,4,2,3],
[8,3,7,8,2,7,8,3,6,8,3,7,8,9,3,7,8,3,6,2,7,4,6,3,7,4,6,1,3,2,0,3,2,1,3,2,1,3,5,2,3,4],
[8,6,3,8,7,3,8,6,9,3,7,8,6,9,7,3,8,6,3,7,4,6,3,7,5,6,4,2,3,2,1,3,1,2,0,2,3,2,5,3,1,2],
[7,3,8,2,7,8,3,7,8,2,7,9,3,8,7,3,8,2,7,3,8,3,6,3,5,3,4,2,1,2,3,1,2,1,3,1,2,3,1,2,1,3],
[8,3,7,8,3,7,8,2,7,8,3,9,7,3,8,7,3,8,2,7,3,6,3,7,3,4,3,1,2,1,3,1,2,0,2,1,3,1,2,3,1,2],
[5,8,3,7,4,8,2,6,5,8,4,7,3,6,5,8,3,6,7,3,5,8,2,6,4,7,0,3,3,2,4,3,3,2,4,3,4,3,3,4,5,4],
[6,4,7,3,6,8,3,7,8,4,6,8,3,9,7,3,6,8,4,7,5,3,6,7,4,5,4,1,3,2,0,3,1,2,1,3,2,1,3,2,1,0],
[7,5,8,3,7,6,8,5,3,7,8,3,7,9,8,6,3,7,8,5,3,7,4,6,5,4,3,0,2,1,3,2,0,3,1,2,1,3,2,1,3,2],
[3,7,5,3,7,4,8,3,6,8,4,9,3,7,4,6,5,8,3,6,4,7,2,6,4,5,4,1,0,2,1,3,0,2,1,3,2,1,4,2,3,1],
[6,7,3,8,6,7,4,8,7,3,8,6,3,8,7,8,3,7,2,6,7,3,6,2,7,4,5,2,3,1,3,2,1,3,2,1,3,2,1,4,0,3],
[7,5,3,8,6,3,7,8,6,8,3,8,6,9,4,8,6,3,7,2,6,3,7,2,5,3,1,0,3,1,2,0,3,2,1,3,1,2,3,5,1,2]];
/* ---------- Panel G data: [low whisker, q1, median, q3, high whisker] ---------- */
const immuneCells=["Activated.B.cellina","Activated.CD4.T.cellina","Activated.CD8.T.cellina","Activated.dendritic.cellina","CD56bright.natural.killer.cellina","CD56dim.natural.killer.cellina","Eosinophilna","Gamma.delta.T.cellina","Immature..B.cellina","Immature.dendritic.cellina","MDSCna","Macrophagena","Mast.cellina","Monocytena","Natural.killer.T.cellina","Natural.killer.cellina","Neutrophilna","Plasmacytoid.dendritic.cellina","Regulatory.T.cellina","T.follicular.helper.cellina","Type.1.T.helper.cellina","Type.17.T.helper.cellina","Type.2.T.helper.cellina"];
const immuneSignif=["***","***","***","***","***","***","***","***","***","***","***","***","***","***","***","***","ns","***","***","***","***","***","***"];
const immuneTicks=[0,.25,.5,.75,1];
const immuneBoxA=[[.125,.309,.38,.488,.741],[.323,.497,.575,.653,.819],[.414,.598,.677,.773,.965],[.581,.62,.646,.662,.716],[.64,.676,.695,.716,.775],[.586,.667,.695,.723,.794],[.16,.287,.332,.38,.513],[.551,.616,.654,.683,.766],[.264,.397,.448,.521,.699],[.665,.705,.725,.741,.775],[.522,.698,.759,.83,.984],[.312,.397,.429,.461,.555],[.338,.435,.481,.532,.673],[.671,.716,.733,.749,.792],[.408,.482,.511,.535,.604],[.617,.681,.705,.724,.783],[.028,.133,.169,.211,.327],[.707,.749,.766,.787,.836],[.378,.537,.589,.646,.808],[.437,.522,.559,.593,.69],[.454,.516,.545,.574,.661],[.287,.349,.371,.395,.454],[.414,.507,.537,.57,.665]];
const immuneBoxB=[[.007,.174,.237,.298,.462],[.267,.424,.486,.548,.72],[.371,.497,.538,.588,.716],[.538,.592,.613,.63,.69],[.589,.651,.672,.692,.745],[.593,.675,.705,.726,.808],[.169,.248,.294,.333,.454],[.505,.579,.606,.634,.703],[.182,.302,.352,.399,.53],[.623,.684,.705,.727,.783],[.403,.565,.617,.677,.821],[.277,.344,.371,.399,.49],[.267,.384,.426,.471,.585],[.661,.697,.712,.727,.766],[.367,.435,.46,.485,.555],[.6,.646,.671,.69,.739],[.015,.14,.182,.226,.344],[.686,.727,.743,.762,.806],[.319,.435,.482,.527,.661],[.37,.454,.485,.513,.602],[.393,.455,.482,.506,.581],[.264,.323,.349,.372,.45],[.399,.492,.526,.558,.657]];
const immuneBoxC=[[.046,.24,.309,.38,.589],[.26,.421,.49,.563,.705],[.423,.538,.591,.677,.876],[.555,.604,.623,.641,.686],[.618,.667,.684,.704,.754],[.631,.686,.711,.727,.779],[.165,.257,.302,.344,.462],[.532,.588,.612,.641,.72],[.239,.349,.392,.435,.559],[.65,.699,.716,.735,.783],[.494,.619,.69,.76,.938],[.288,.359,.397,.431,.53],[.317,.424,.468,.516,.631],[.665,.705,.722,.738,.783],[.388,.451,.481,.506,.564],[.623,.672,.69,.707,.758],[.036,.135,.181,.221,.344],[.695,.743,.758,.777,.819],[.349,.471,.517,.578,.745],[.397,.491,.523,.557,.64],[.402,.475,.504,.538,.616],[.285,.338,.358,.385,.45],[.408,.488,.524,.547,.64]];
const immuneOutA=[[.996,.987,.883,.859,.83,.817,.787,.766,.754,.046],[],[],[.799,.743,.728,.564],[.775,.616,.584],[.831],[.563,.516],[.797],[.977,.952,.852,.789,.766,.749,.732,.716,.707],[.825,.813,.8,.652,.64,.627,.619],[],[.684,.597,.585,.557],[.749,.732,.716,.699,.682],[.852,.83,.817,.804],[.647,.397],[.581,.557],[.788,.518,.374,.365,.357,.349],[.88,.859,.695],[.872,.855,.84,.825,.815],[.726,.707,.697],[.695,.686,.678,.429],[.479],[.682,.673]];
const immuneOutB=[[.68,.551,.53],[.781,.737,.728],[.866,.844,.783,.766,.741,.728],[.724,.699,.686,.538,.522],[.581,.568],[.803,.597,.576],[.5,.49,.475],[.731,.72,.496,.484,.471],[.621,.547],[.798,.613],[.879,.849,.397],[.522,.496,.251],[.657,.635],[.808,.796,.783,.77,.652,.64,.623],[],[.581,.565,.55,.538,.52],[.427,.382,.364,.003],[.672],[.726,.679],[.61,.361],[.616,.589,.372],[.479,.467,.45],[.673,.391,.382]];
const immuneOutC=[[.845,.712,.673,.663,.652],[.783,.775],[.931,.91,.895],[.697],[],[.834,.817,.8,.623,.61,.602],[.49],[.778,.728],[.832,.64,.606,.589,.572],[.792],[],[.553],[.702,.657],[.804,.792,.657],[.592],[.61,.576],[.351],[.686],[.776,.766,.754],[.657],[],[.511,.492,.475,.462,.454],[.705,.64,.397]];
/* ---------- Panel H data ---------- */
const pathwayNames=["CELL_ADHESION","TGF_BETA","WNT","NOTCH"];
const pathwaySignif=["***","***","***","ns"];
const enrichTicks=[-.6,-.3,0,.3,.6];
const enrichBoxA=[[-.448,.019,.244,.363,.581],[-.448,-.152,.048,.214,.494],[-.283,-.062,.038,.124,.359],[-.506,-.124,.002,.138,.51]];
const enrichBoxB=[[-.578,-.356,-.254,-.06,.359],[-.448,-.214,-.043,.132,.457],[-.333,-.146,-.032,.067,.311],[-.424,-.173,-.017,.108,.475]];
const enrichBoxC=[[-.538,-.221,.006,.252,.544],[-.44,-.175,.014,.221,.502],[-.343,-.113,-.01,.105,.343],[-.44,-.16,-.024,.121,.403]];
const enrichOutB=[[.419,.386],[],[],[]];

/* ---------- helpers ---------- */
const NS='http://www.w3.org/2000/svg';
const BLUE='#0066ff',ORANGE='#ff9900',RED='#ff0000',SALMON='#ff9489',GREEN='#99cc00',PINK='#ff80d8';
function mk(parent,tag,attrs){
  const node=document.createElementNS(NS,tag);
  for(const k in attrs)node.setAttribute(k,attrs[k]);
  parent.appendChild(node);
  return node;
}
function txt(parent,x,y,str,size,opt){
  opt=opt||{};
  const node=mk(parent,'text',{x:x,y:y,'font-size':size,'dominant-baseline':'central',fill:opt.fill||'#222222'});
  if(opt.anchor)node.setAttribute('text-anchor',opt.anchor);
  if(opt.bold)node.setAttribute('font-weight','bold');
  if(opt.len){node.setAttribute('textLength',opt.len);node.setAttribute('lengthAdjust','spacingAndGlyphs');}
  if(opt.rot!==undefined)node.setAttribute('transform','rotate('+opt.rot+' '+x+' '+y+')');
  node.textContent=str;
  return node;
}
function heatColor(v){
  const t=(v-4.5)/4.5;
  if(t<0){const c=Math.round(255*(1+t));return 'rgb('+c+','+c+',255)';}
  const c=Math.round(255*(1-t));
  return 'rgb(255,'+c+','+c+')';
}
function drawHeat(parent,rows,segs,y0,rowH){
  let start=0;
  segs.forEach(function(seg){
    const block=mk(parent,'g',{filter:'url(#hblur)'});
    
    
    const w=(seg.x1-seg.x0)/seg.n;
    rows.forEach(function(row,r){
      for(let i=0;i<seg.n;i++){
        const cell=mk(block,'rect',{x:seg.x0+i*w,y:y0+r*rowH,width:w+(i<seg.n-1?.6:0),height:rowH+.4,fill:heatColor(row[start+i])});
        
        
      }
    });
    start+=seg.n;
    rows.forEach(function(row,r){
      const dx=(r*13)%41;
      const tex=mk(parent,'rect',{x:seg.x0-dx,y:y0+r*rowH,width:seg.x1-seg.x0,height:rowH+.4,fill:'url(#fineStripes)',transform:'translate('+dx+' 0)'});
      
      
    });
  });
}
function drawTree(parent,node,xRight,rowY){
  if(typeof node==='number')return {x:xRight,y:rowY(node)};
  const a=drawTree(parent,node[1],xRight,rowY);
  const b=drawTree(parent,node[2],xRight,rowY);
  const x=xRight-node[0];
  const p=mk(parent,'path',{d:'M'+a.x+' '+a.y+'H'+x+'V'+b.y+'H'+b.x,fill:'none',stroke:'#666666','stroke-width':2.6});
  
  
  return {x:x,y:(a.y+b.y)/2};
}
function legendBlock(parent,x,w,labelX,title,titleY,titleLen,items,size){
  const head=txt(parent,x,titleY,title,size+3,{bold:true,len:titleLen});
  
  
  items.forEach(function(it){
    const sw=mk(parent,'rect',{x:x,y:it.y0,width:w,height:it.y1-it.y0,fill:it.color});
    
    
    const lab=txt(parent,labelX,(it.y0+it.y1)/2,it.label,size,{len:it.len});
    
    
  });
}
function colorBar(parent,x,w,y0,y1,fillId,labelX,ticks,size){
  const bar=mk(parent,'rect',{x:x,y:y0,width:w,height:y1-y0,fill:'url(#'+fillId+')'});
  
  
  ticks.forEach(function(tk){
    const l=txt(parent,labelX,tk[1],tk[0],size,{fill:'#333333'});
    
    
  });
}
function drawBox(parent,cx,w,s,color,y,lw,outs,r){
  const wh=mk(parent,'path',{d:'M'+cx+' '+y(s[4])+'V'+y(s[3])+'M'+cx+' '+y(s[1])+'V'+y(s[0]),stroke:color,'stroke-width':lw,fill:'none'});
  
  
  const bx=mk(parent,'rect',{x:cx-w/2,y:y(s[3]),width:w,height:y(s[1])-y(s[3]),fill:'#ffffff','fill-opacity':.75,stroke:color,'stroke-width':lw});
  
  
  const md=mk(parent,'line',{x1:cx-w/2,x2:cx+w/2,y1:y(s[2]),y2:y(s[2]),stroke:color,'stroke-width':lw+1});
  
  
  (outs||[]).forEach(function(v){
    const o=mk(parent,'circle',{cx:cx,cy:y(v),r:r,fill:color});
    
    
  });
}
function boxKey(parent,x0,x1,y0,y1,color,lw){
  const ym=(y0+y1)/2,xm=(x0+x1)/2;
  const k=mk(parent,'path',{d:'M'+xm+' '+y0+'V'+(y0+6)+'M'+xm+' '+(y1-6)+'V'+y1+'M'+x0+' '+ym+'H'+x1,stroke:color,'stroke-width':lw,fill:'none'});
  
  
  const b=mk(parent,'rect',{x:x0,y:y0+6,width:x1-x0,height:y1-y0-12,fill:'none',stroke:color,'stroke-width':lw});
  
  
}
function line(parent,x1,y1,x2,y2,color,w,name){
  const l=mk(parent,'line',{x1:x1,y1:y1,x2:x2,y2:y2,stroke:color,'stroke-width':w});
  
  
  return l;
}

/* ---------- Panel A ---------- */
(function(){
  const g=document.getElementById('panelA');
  const x=function(v){return 449.7+43.3*v;};
  const yy=function(v){return 635-51.8*v;};
  const frame=mk(g,'rect',{x:195,y:275.5,width:654,height:609,fill:'none',stroke:'#7f7f7f','stroke-width':3});
  
  
  [[pcaPointsB,ORANGE],[pcaPointsA,BLUE],[pcaPointsC,RED]].forEach(function(s){
    s[0].forEach(function(p){
      const c=mk(g,'circle',{cx:x(p[0]),cy:yy(p[1]),r:5.8,fill:s[1]});
      
      
    });
  });
  pcaTicksX.forEach(function(v){
    line(g,x(v),884.6,x(v),890,'#7f7f7f',2,'x-axis-tick');
    const t=txt(g,x(v),906,String(v).replace('-','\u2212'),19,{anchor:'middle',fill:'#7f7f7f'});
    
    
  });
  pcaTicksY.forEach(function(v){
    line(g,190,yy(v),195,yy(v),'#7f7f7f',2,'y-axis-tick');
    const t=txt(g,186,yy(v),v.toFixed(1).replace('-','\u2212'),19,{anchor:'end',fill:'#7f7f7f'});
    
    
  });
  let el=txt(g,520,928,'PC1',22,{anchor:'middle',fill:'#333333'});
  
  
  el=txt(g,128,580,'PC2',22,{anchor:'middle',fill:'#333333',rot:-90});
  
  
  [['A',408,610],['C',445,617],['B',501,676]].forEach(function(c){
    const t=txt(g,c[1],c[2],c[0],40,{anchor:'middle',fill:'#000000'});
    
    
  });
  el=txt(g,884,521,'FMGsCluste',23,{fill:'#333333'});
  
  
  [['A',BLUE,561],['B',ORANGE,597.6],['C',RED,633]].forEach(function(c){
    const d=mk(g,'circle',{cx:901,cy:c[2],r:5,fill:c[1]});
    
    
    const t=txt(g,933,c[2],c[0],19,{fill:'#333333'});
    
    
  });
})();

/* ---------- Panel B ---------- */
(function(){
  const g=document.getElementById('panelB');
  const X0=1094,X1=1496,X2=1848,X3=2075;
  const band=function(x0,x1,y0,y1,c,name){
    const r=mk(g,'rect',{x:x0,y:y0,width:x1-x0,height:y1-y0,fill:c});
    
    
  };
  band(X0,X3,236,249.5,'#00d8ff','annotation-fustat');
  const w=(X3-X0)/stageBar.length;
  const stageColors=['#eefbfb','#b5e3da','#9edccb','#6fc4a2','#2a9d5c'];
  stageBar.forEach(function(v,i){
    const r=mk(g,'rect',{x:X0+i*w,y:253,width:w+.5,height:14,fill:stageColors[v]});
    
    
  });
  ageBar.forEach(function(v,i){
    const r=mk(g,'rect',{x:X0+i*w,y:271,width:w+.5,height:14,fill:v?'#b8b018':'#62bc30'});
    
    
  });
  band(X0,X3,288,301.5,PINK,'annotation-project-tcga');
  band(1459,1496,288,301.5,SALMON,'annotation-project-gse');
  band(1811,1848,288,301.5,SALMON,'annotation-project-gse');
  band(2052,2075,288,301.5,SALMON,'annotation-project-gse');
  band(X0,X1,304.6,318.4,BLUE,'annotation-cluster-a');
  band(X1,X2,304.6,318.4,ORANGE,'annotation-cluster-b');
  band(X2,X3,304.6,318.4,RED,'annotation-cluster-c');
  drawHeat(g,geneHeat,[{n:25,x0:X0,x1:X1},{n:21,x0:X1,x1:X2},{n:14,x0:X2,x1:X3}],325,44.07);
  geneNames.forEach(function(n,i){
    const t=txt(g,2082,325+44.07*(i+.5),n,16,{len:n.length*8.1,fill:'#333333'});
    
    
  });
  [['fustat',243,34],['Stage',260,36],['Age',277.5,24],['Project',294,44],['FMGsCluster',311,80]].forEach(function(a){
    const t=txt(g,2082,a[1],a[0],15,{bold:true,len:a[2]});
    
    
  });
  colorBar(g,2161,22.5,233,557,'gradB',2190,[['10',248],['5',322],['0',395],['\u22125',469],['\u221210',542]],15);
  legendBlock(g,2216,18,2239,'fustat',238,34,[{label:'Alive',color:'#00d8ff',y0:247,y1:266,len:26},{label:'Dead',color:'#00d8b0',y0:266,y1:285,len:30}],13);
  legendBlock(g,2216,18,2239,'Stage',305,34,[],13);
  const st=mk(g,'rect',{x:2216,y:313,width:18,height:75,fill:'url(#gradStage)'});
  
  
  [['4',322],['0',378]].forEach(function(a){
    const t=txt(g,2239,a[1],a[0],13);
    
    
  });
  legendBlock(g,2216,18,2239,'Age',405.6,24,[{label:'>55',color:'#00c860',y0:415,y1:434,len:20},{label:'<=55',color:'#f0a800',y0:434,y1:452.5,len:28}],13);
  legendBlock(g,2216,18,2239,'Project',469,42,[{label:'GSE162226',color:SALMON,y0:480,y1:498.5,len:66},{label:'TCGA',color:PINK,y0:498.5,y1:517,len:32}],13);
  legendBlock(g,2216,18,2239,'FMGsCluster',534,68,[{label:'A',color:BLUE,y0:544,y1:563},{label:'B',color:ORANGE,y0:563,y1:582},{label:'C',color:RED,y0:582,y1:600.5}],13);
})();

/* ---------- Panel C ---------- */
(function(){
  const g=document.getElementById('panelC');
  const x=function(t){return 2462+31.2*t;};
  const y=function(s){return 725-441*s;};
  const stepPath=function(ts,ss){
    let d='M'+x(ts[0])+' '+y(ss[0]);
    for(let i=1;i<ts.length;i++)d+='H'+x(ts[i])+'V'+y(ss[i]);
    return d;
  };
  const survAt=function(ts,ss,t){
    let s=ss[0];
    for(let i=0;i<ts.length;i++)if(ts[i]<=t)s=ss[i];
    return s;
  };
  [[kmTimesB,kmSurvB,censorB,ORANGE],[kmTimesA,kmSurvA,censorA,BLUE],[kmTimesC,kmSurvC,censorC,RED]].forEach(function(k){
    const p=mk(g,'path',{d:stepPath(k[0],k[1]),fill:'none',stroke:k[3],'stroke-width':5.2});
    
    
    k[2].forEach(function(t){
      const cx=x(t),cy=y(survAt(k[0],k[1],t));
      const c=mk(g,'path',{d:'M'+(cx-8)+' '+cy+'H'+(cx+8)+'M'+cx+' '+(cy-9)+'V'+(cy+9),fill:'none',stroke:k[3],'stroke-width':3.4});
      
      
    });
  });
  const med=line(g,x(0),y(.5),x(medianTimes[2]),y(.5),'#999999',6,'median-reference-line');
  med.setAttribute('stroke-dasharray','9 8');
  medianTimes.forEach(function(t){
    const v=line(g,x(t),y(.5),x(t),y(0),'#111111',2.6,'median-drop-line');
    v.setAttribute('stroke-dasharray','9 7');
  });
  line(g,2423,263,2423,749,'#444444',4,'y-axis-line');
  line(g,2421,747,3282,747,'#444444',4,'x-axis-line');
  survTicks.forEach(function(v){
    line(g,2416,y(v),2423,y(v),'#333333',2.5,'y-axis-tick');
    const t=txt(g,2413,y(v),v.toFixed(2),22,{anchor:'end',fill:'#333333'});
    
    
  });
  timeTicks.forEach(function(v){
    line(g,x(v),747,x(v),754,'#333333',2.5,'x-axis-tick');
    const t=txt(g,x(v),767,String(v),22,{anchor:'middle',fill:'#333333'});
    
    
    line(g,x(v),937,x(v),944,'#333333',2.5,'risk-axis-tick');
    const t2=txt(g,x(v),957,String(v),22,{anchor:'middle',fill:'#333333'});
    
    
  });
  let el=txt(g,2348,505,'Survival probability',26,{anchor:'middle',rot:-90});
  
  
  el=txt(g,2852,796,'Time(years)',26,{anchor:'middle'});
  
  
  el=txt(g,2852,986,'Time(years)',26,{anchor:'middle'});
  
  
  el=txt(g,2477,639,'p=0.122',32);
  
  
  el=txt(g,3064,306,'FMGsCluster',19,{fill:'#333333'});
  
  
  [['A',BLUE,339],['B',ORANGE,373],['C',RED,407]].forEach(function(c){
    line(g,3065,c[2],3092,c[2],c[1],5,'legend-line-key');
    line(g,3078.5,c[2]-7,3078.5,c[2]+7,c[1],3,'legend-censor-key');
    const t=txt(g,3105,c[2],c[0],19,{fill:'#333333'});
    
    
  });
  el=txt(g,2348,894,'FMGsCluster',26,{anchor:'middle',rot:-90});
  
  
  el=txt(g,2424,846,'Number at risk',30);
  
  
  line(g,2423,875,2423,939,'#444444',3,'risk-y-axis-line');
  line(g,2421,937.5,3282,937.5,'#555555',5,'risk-x-axis-line');
  [['A',BLUE,885,riskA],['B',ORANGE,906,riskB],['C',RED,926,riskC]].forEach(function(r){
    const t=txt(g,2404,r[2],r[0],26,{anchor:'middle',fill:r[1]});
    
    
    r[3].forEach(function(v,i){
      const n=txt(g,x(timeTicks[i]),r[2],String(v),27,{anchor:'middle',fill:'#222222'});
      
      
    });
  });
})();

/* ---------- Panels D, E, F ---------- */
function pathwayPanel(cfg){
  const g=document.getElementById(cfg.id);
  const s=cfg.segs;
  const band=function(x0,x1,y0,y1,c,name){
    const r=mk(g,'rect',{x:x0,y:y0,width:x1-x0,height:y1-y0,fill:c});
    
    
  };
  band(s[0].x0,s[0].x1,cfg.barY[0],cfg.barY[1],cfg.colors[0],'annotation-cluster-left');
  band(s[1].x0,s[1].x1,cfg.barY[0],cfg.barY[1],cfg.colors[1],'annotation-cluster-right');
  band(s[0].x0,s[0].x1,cfg.projY[0],cfg.projY[1],SALMON,'annotation-project-tcga');
  band(s[1].x0,s[1].x1,cfg.projY[0],cfg.projY[1],SALMON,'annotation-project-tcga');
  band(cfg.green[0],s[0].x1,cfg.projY[0],cfg.projY[1],GREEN,'annotation-project-gse');
  band(cfg.green[1],s[1].x1,cfg.projY[0],cfg.projY[1],GREEN,'annotation-project-gse');
  const rowH=(cfg.mainY[1]-cfg.mainY[0])/cfg.rows.length;
  drawHeat(g,cfg.rows,s,cfg.mainY[0],rowH);
  drawTree(g,cfg.tree,s[0].x0,function(i){return cfg.mainY[0]+rowH*(i+.5);});
  cfg.labels.forEach(function(n,i){
    const t=txt(g,cfg.labelX,cfg.mainY[0]+rowH*(i+.5)+9.5,n,14,{len:n.length*6.4,fill:'#444444'});
    
    
  });
  let el=txt(g,cfg.labelX,(cfg.barY[0]+cfg.barY[1])/2,'FMGsCluster',17,{bold:true,len:88});
  
  
  el=txt(g,cfg.labelX,(cfg.projY[0]+cfg.projY[1])/2,'Project',17,{bold:true,len:47});
  
  
  colorBar(g,cfg.bar[0],cfg.bar[1]-cfg.bar[0],cfg.bar[2],cfg.bar[3],'gradHeat',cfg.bar[4],cfg.ticks,19);
  const L=cfg.legend;
  legendBlock(g,L.x,20.5,L.lx,'FMGsCluster',L.t1,88,[{label:cfg.names[0],color:cfg.colors[0],y0:L.b[0],y1:L.b[1]},{label:cfg.names[1],color:cfg.colors[1],y0:L.b[1],y1:L.b[2]}],19);
  legendBlock(g,L.x,20.5,L.lx,'Project',L.t2,47,[{label:'GSE162226',color:GREEN,y0:L.p[0],y1:L.p[1],len:77},{label:'TCGA',color:SALMON,y0:L.p[1],y1:L.p[2],len:39}],19);
}
pathwayPanel({id:'panelD',rows:heatD,labels:pathwaysD,colors:[BLUE,ORANGE],names:['A','B'],
  segs:[{n:24,x0:102,x1:344.5},{n:20,x0:350,x1:563}],barY:[1217.6,1240.6],projY:[1243.8,1265.5],mainY:[1272,2130],green:[322,539.5],labelX:572,
  tree:[74,[57,[41,0,[27,1,2]],[55,3,[49,[32,4,5],[47,[33,6,7],[32,8,[27,9,[18,10,[16,11,12]]]]]]]],[66,13,[47,[38,14,15],[46,[30,16,17],[36,18,19]]]]],
  bar:[892,907,1216,1540,915],ticks:[['2',1240.6],['1',1309.5],['0',1378],['\u22121',1448],['\u22122',1517]],
  legend:{x:933,lx:957.5,t1:1223,b:[1239,1270.6,1301],t2:1333,p:[1348,1379,1410]}});
pathwayPanel({id:'panelE',rows:heatE,labels:pathwaysE,colors:[ORANGE,RED],names:['B','C'],
  segs:[{n:26,x0:1221.4,x1:1502},{n:16,x0:1507.6,x1:1682.3}],barY:[1218,1241],projY:[1244,1266],mainY:[1273,2130],green:[1472.5,1664.7],labelX:1691,
  tree:[72,0,[60,[44,[31,1,[27,[20,2,3],[25,4,5]]],[36,[25,6,[18,7,8]],[30,9,[23,10,[21,11,[19,12,[16,13,[9,14,15]]]]]]]],[46,16,[40,17,[36,18,19]]]]],
  bar:[2012.6,2027.4,1217,1542,2033],ticks:[['3',1220],['2',1274],['1',1327],['0',1380],['\u22121',1433],['\u22122',1486],['\u22123',1539]],
  legend:{x:2052.6,lx:2077,t1:1224,b:[1241,1271,1302],t2:1334,p:[1349,1380,1411]}});
pathwayPanel({id:'panelF',rows:heatF,labels:pathwaysF,colors:[BLUE,RED],names:['A','C'],
  segs:[{n:27,x0:2321,x1:2614},{n:15,x0:2619,x1:2781}],barY:[1239.5,1262],projY:[1265.7,1287.4],mainY:[1294,2150],green:[2587,2764],labelX:2790,
  tree:[73,[72,[60,0,[55,[48,[39,1,2],[31,3,4]],[36,5,6]]],[49,7,[48,8,[33,9,[31,10,[25,11,[17,12,13]]]]]]],[64,14,[48,[34,15,[29,16,17]],[39,18,19]]]],
  bar:[3110.4,3125.3,1237.6,1562,3130],ticks:[['2',1278],['1',1338],['0',1400],['\u22121',1461.5],['\u22122',1522.7]],
  legend:{x:3151,lx:3176,t1:1244.6,b:[1260.6,1291,1322],t2:1353.7,p:[1369.6,1400,1431.5]}});

/* ---------- Panel G ---------- */
(function(){
  const g=document.getElementById('panelG');
  const x=function(i){return 372+55.26*i;};
  const y=function(v){return 2895.4-589.4*v;};
  immuneCells.forEach(function(name,i){
    drawBox(g,x(i)-14.8,14,immuneBoxA[i],BLUE,y,3,immuneOutA[i],5.5);
    drawBox(g,x(i),14,immuneBoxB[i],ORANGE,y,3,immuneOutB[i],5.5);
    drawBox(g,x(i)+14.8,14,immuneBoxC[i],RED,y,3,immuneOutC[i],5.5);
    line(g,x(i),2925,x(i),2934,'#333333',2.5,'x-axis-tick');
    const s=immuneSignif[i];
    const sig=txt(g,x(i),s==='ns'?2294:2293,s,s==='ns'?26:24,{anchor:'middle',fill:'#333333'});
    
    
    const lab=txt(g,x(i)+8,2949,name,29,{anchor:'end',fill:'#333333',rot:-50});
    
    
  });
  line(g,338.8,2277,338.8,2927,'#444444',3.5,'y-axis-line');
  line(g,337,2925,1620,2925,'#555555',5,'x-axis-line');
  immuneTicks.forEach(function(v){
    line(g,331,y(v),338.8,y(v),'#333333',2.5,'y-axis-tick');
    const t=txt(g,326,y(v),v.toFixed(2),28,{anchor:'end',fill:'#333333'});
    
    
  });
  let el=txt(g,244,2601,'Immune infiltration',29,{anchor:'middle',rot:-90});
  
  
  el=txt(g,753.6,2212,'FMGsCluster',28);
  
  
  [['A',BLUE,939,973,992],['B',ORANGE,1026.5,1061,1081.6],['C',RED,1115,1149.5,1169]].forEach(function(c){
    boxKey(g,c[2],c[3],2192,2230,c[1],3.5);
    const t=txt(g,c[4],2212,c[0],22,{fill:'#333333'});
    
    
  });
})();

/* ---------- Panel H ---------- */
(function(){
  const g=document.getElementById('panelH');
  const x=function(i){return 2120+290.3*i;};
  const y=function(v){return 2679-400.4*v;};
  pathwayNames.forEach(function(name,i){
    drawBox(g,x(i)-77.5,68,enrichBoxA[i],BLUE,y,3.2,[],5);
    drawBox(g,x(i),68,enrichBoxB[i],ORANGE,y,3.2,enrichOutB[i],5);
    drawBox(g,x(i)+77.5,68,enrichBoxC[i],RED,y,3.2,[],5);
    line(g,x(i),2933.7,x(i),2942,'#444444',3,'x-axis-tick');
    const s=pathwaySignif[i];
    const sig=txt(g,x(i),s==='ns'?2439:2434,s,s==='ns'?24:20,{anchor:'middle',fill:'#333333'});
    
    
    const lab=txt(g,x(i)+10,2950,name,28,{anchor:'end',fill:'#333333',rot:-50});
    
    
  });
  line(g,1947,2421.6,1947,2936,'#555555',4,'y-axis-line');
  line(g,1945,2933.7,3164,2933.7,'#555555',4,'x-axis-line');
  enrichTicks.forEach(function(v){
    line(g,1939,y(v),1947,y(v),'#444444',3,'y-axis-tick');
    const t=txt(g,1935,y(v),v.toFixed(1).replace('-','\u2212'),26,{anchor:'end',fill:'#333333'});
    
    
  });
  let el=txt(g,1856,2682,'Enrichment Score',28,{anchor:'middle',rot:-90});
  
  
  el=txt(g,2340,2360,'FMGsCluster',27,{len:165});
  
  
  [['A',BLUE,2518,2550,2575],['B',ORANGE,2602,2634,2659],['C',RED,2686,2717,2743]].forEach(function(c){
    boxKey(g,c[2],c[3],2344,2377,c[1],3.5);
    const t=txt(g,c[4],2360,c[0],22,{fill:'#333333'});
    
    
  });
})();
</script>
</body>
</html>
